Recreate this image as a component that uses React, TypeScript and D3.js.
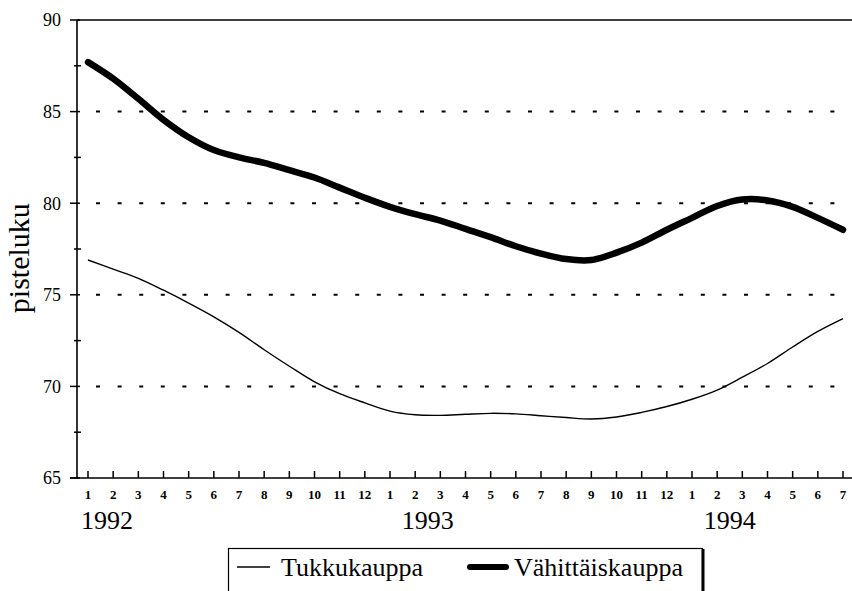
import React from 'react';
import * as d3 from 'd3';

// monthly index, Jan 1992 .. Jul 1994
const monthLabels = [
  '1', '2', '3', '4', '5', '6', '7', '8', '9', '10', '11', '12',
  '1', '2', '3', '4', '5', '6', '7', '8', '9', '10', '11', '12',
  '1', '2', '3', '4', '5', '6', '7',
];
const years = [
  { label: '1992', at: 0.75 },
  { label: '1993', at: 13.5 },
  { label: '1994', at: 25.5 },
];
const tukkukauppa = [
  76.9, 76.4, 75.9, 75.25, 74.55, 73.8, 72.95, 72.0, 71.1, 70.25, 69.6, 69.1,
  68.65, 68.45, 68.42, 68.48, 68.53, 68.5, 68.4, 68.3, 68.22, 68.33, 68.58, 68.9,
  69.3, 69.8, 70.5, 71.25, 72.15, 73.0, 73.7,
];
const vahittaiskauppa = [
  87.7, 86.8, 85.7, 84.55, 83.6, 82.9, 82.5, 82.2, 81.8, 81.4, 80.85, 80.3,
  79.8, 79.4, 79.05, 78.6, 78.15, 77.65, 77.25, 76.95, 76.9, 77.3, 77.85, 78.55,
  79.2, 79.85, 80.2, 80.15, 79.8, 79.2, 78.55,
];
const yTicks = [65, 70, 75, 80, 85, 90];
const yMinor = [67.5, 72.5, 77.5, 82.5, 87.5];
const gridLines = [70, 75, 80, 85];

const W = 852;
const H = 591;
const serif = { fontFamily: "'Liberation Serif', 'Times New Roman', Times, 'DejaVu Serif', serif" };

export default function App() {
  const x = d3.scaleLinear().domain([0, 30]).range([88, 843]);
  const y = d3.scaleLinear().domain([65, 90]).range([478, 20]);
  const axisX = 77;

  const line = d3
    .line<number>()
    .x((d, i) => x(i))
    .y((d) => y(d))
    .curve(d3.curveCatmullRom);

  return (
    <svg width={W} height={H} style={{ position: 'absolute', left: 0, top: 0, background: '#fff' }}>
      {/* grid */}
      {gridLines.map((v) => (
        <line key={v} x1={96} x2={W} y1={y(v)} y2={y(v)} stroke="#000" strokeWidth={2}
          strokeDasharray="4 17.6" />
      ))}
      {/* frame */}
      <line x1={axisX} x2={W} y1={y(90)} y2={y(90)} stroke="#000" strokeWidth={1.6} />
      <line x1={axisX} x2={axisX} y1={y(90)} y2={y(65)} stroke="#000" strokeWidth={1.6} />
      <line x1={70} x2={W} y1={y(65)} y2={y(65)} stroke="#000" strokeWidth={1.6} />
      {/* y ticks */}
      {yTicks.map((v) => (
        <g key={v}>
          <line x1={70} x2={axisX + 3} y1={y(v)} y2={y(v)} stroke="#000" strokeWidth={1.5} />
          <text x={61} y={y(v)} dy="0.35em" textAnchor="end" style={serif} fontSize={18}>{v}</text>
        </g>
      ))}
      {yMinor.map((v) => (
        <line key={v} x1={axisX - 3} x2={axisX + 4} y1={y(v)} y2={y(v)} stroke="#000" strokeWidth={1.5} />
      ))}
      <text transform={`translate(29,${y(77)}) rotate(-90)`} textAnchor="middle"
        style={serif} fontSize={30}>pisteluku</text>
      {/* x ticks */}
      {monthLabels.map((m, i) => (
        <g key={i}>
          <line x1={x(i)} x2={x(i)} y1={y(65)} y2={y(65) - 7} stroke="#000" strokeWidth={1.5} />
          <text x={x(i)} y={499} textAnchor="middle" style={serif} fontSize={13}
            fontWeight="bold">{m}</text>
        </g>
      ))}
      {years.map((yr) => (
        <text key={yr.label} x={x(yr.at)} y={529} textAnchor="middle" style={serif}
          fontSize={26}>{yr.label}</text>
      ))}
      {/* series */}
      <path d={line(tukkukauppa) ?? ''} fill="none" stroke="#000" strokeWidth={1.4} />
      <path d={line(vahittaiskauppa) ?? ''} fill="none" stroke="#000" strokeWidth={6.5}
        strokeLinecap="round" />
      {/* legend */}
      <rect x={228.5} y={548.5} width={474} height={60} fill="#fff" stroke="#000" strokeWidth={1.2} />
      <line x1={703} x2={703} y1={549} y2={H} stroke="#000" strokeWidth={3} />
      <line x1={237} x2={270} y1={567} y2={567} stroke="#000" strokeWidth={1.4} />
      <text x={281} y={576} style={serif} fontSize={26}>Tukkukauppa</text>
      <line x1={470} x2={506} y1={567} y2={567} stroke="#000" strokeWidth={6} strokeLinecap="round" />
      <text x={514} y={576} style={serif} fontSize={26}>Vähittäiskauppa</text>
    </svg>
  );
}
